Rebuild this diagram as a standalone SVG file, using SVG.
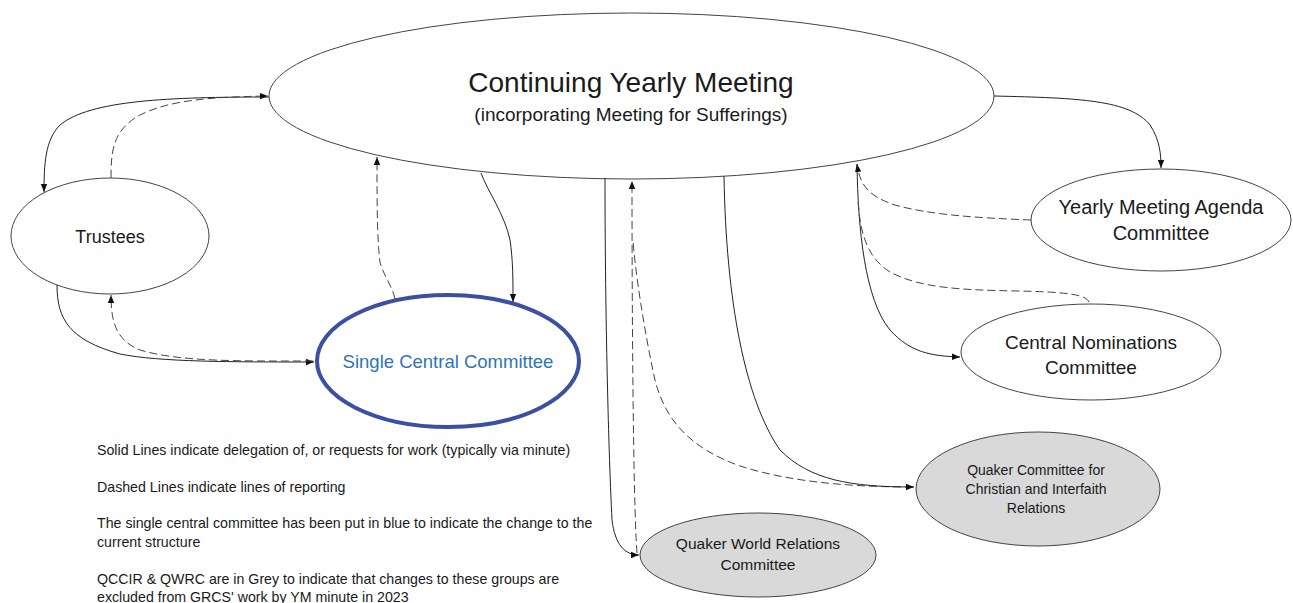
<svg xmlns="http://www.w3.org/2000/svg" width="1293" height="603" viewBox="0 0 1293 603">
<style>
.node{fill:#fff;stroke:#444;stroke-width:1}
.grey{fill:#d9d9d9;stroke:#444;stroke-width:1}
.blue{fill:#fff;stroke:#3b4fa3;stroke-width:4}
text{font-family:"Liberation Sans",Arial,sans-serif;fill:#1a1a1a}
.c{text-anchor:middle}
.solid{fill:none;stroke:#222;stroke-width:1}
.dash{fill:none;stroke:#444;stroke-width:1;stroke-dasharray:8 4}
.arr{marker-end:url(#ah)}
.leg{font-size:14.2px}
</style>
<defs>
<marker id="ah" markerUnits="userSpaceOnUse" markerWidth="8" markerHeight="8" viewBox="0 0 8 8" refX="8" refY="4" orient="auto">
<path d="M0,0.8 L8,4 L0,7.2 Z" fill="#111"/>
</marker>
</defs>
<rect width="1293" height="603" fill="#fff"/>
<g id="cym">
<ellipse class="node" cx="631.5" cy="96" rx="362.5" ry="83"/>
<text class="c" x="631" y="92" font-size="28">Continuing Yearly Meeting</text>
<text class="c" x="631" y="121" font-size="19">(incorporating Meeting for Sufferings)</text>
</g>
<g id="trustees">
<ellipse class="node" cx="110" cy="236" rx="99" ry="58"/>
<text class="c" x="110" y="243" font-size="18">Trustees</text>
</g>
<g id="scc">
<ellipse class="blue" cx="448" cy="361" rx="131" ry="66"/>
<text class="c" x="448" y="368" font-size="18.5" style="fill:#2e75b6">Single Central Committee</text>
</g>
<g id="ymac">
<ellipse class="node" cx="1161" cy="220" rx="130" ry="51"/>
<text class="c" x="1161" y="214" font-size="20">Yearly Meeting Agenda</text>
<text class="c" x="1161" y="240" font-size="20">Committee</text>
</g>
<g id="cnc">
<ellipse class="node" cx="1091" cy="352" rx="130" ry="48"/>
<text class="c" x="1091" y="349" font-size="19">Central Nominations</text>
<text class="c" x="1091" y="374" font-size="19">Committee</text>
</g>
<g id="qccir">
<ellipse class="grey" cx="1038" cy="489" rx="122" ry="57"/>
<text class="c" x="1036" y="475" font-size="14">Quaker Committee for</text>
<text class="c" x="1036" y="494" font-size="14">Christian and Interfaith</text>
<text class="c" x="1036" y="513" font-size="14">Relations</text>
</g>
<g id="qwrc">
<ellipse class="grey" cx="758" cy="555" rx="118" ry="42"/>
<text class="c" x="758" y="549" font-size="15.5">Quaker World Relations</text>
<text class="c" x="758" y="570" font-size="15.5">Committee</text>
</g>
<g id="connectors">
<path class="solid arr" d="M269,97 C170,97 90,100 60,125 C45,140 44,165 44,192"/>
<path class="dash arr" d="M111,178 C111,150 113,130 140,115 C170,100 210,97 268,96"/>
<path class="solid arr" d="M57,285 C57,320 70,340 120,354 C160,362 230,362 314,362"/>
<path class="dash arr" d="M313,361 C240,361 180,362 140,350 C115,340 111,320 111,295"/>
<path class="dash arr" d="M395,299 C392,285 383,275 380,262 C377,240 377,200 377,157"/>
<path class="solid arr" d="M481,173 C487,190 505,215 510,240 C513,260 513,280 513,302"/>
<path class="solid arr" d="M605,178 C605,300 608,440 612,520 C615,545 625,555 639,555"/>
<path class="dash arr" d="M637,553 C633,500 632,300 632,181"/>
<path class="dash" d="M913,487 C850,487 790,482 740,466 C690,448 665,420 655,380 C644,330 635,270 633,240"/>
<path class="solid arr" d="M724,176 C726,300 745,400 780,450 C810,480 850,487 914,487"/>
<path class="solid arr" d="M994,96 C1080,98 1130,100 1150,125 C1160,140 1161,155 1161,168"/>
<path class="solid arr" d="M857,164 C858,230 865,300 890,330 C910,352 930,356 960,357"/>
<path class="dash arr" d="M1031,220 C980,218 930,215 895,205 C868,196 860,185 857,164"/>
<path class="dash" d="M1089,302 C1086,295 1070,292 1018,291 C960,290 920,288 890,272 C868,258 860,235 858,200"/>
</g>
<g id="legend">
<text class="leg" x="97" y="455">Solid Lines indicate delegation of, or requests for work (typically via minute)</text>
<text class="leg" x="97" y="492">Dashed Lines indicate lines of reporting</text>
<text class="leg" x="97" y="528">The single central committee has been put in blue to indicate the change to the</text>
<text class="leg" x="97" y="547">current structure</text>
<text class="leg" x="97" y="584">QCCIR &amp; QWRC are in Grey to indicate that changes to these groups are</text>
<text class="leg" x="97" y="602">excluded from GRCS' work by YM minute in 2023</text>
</g>
</svg>
